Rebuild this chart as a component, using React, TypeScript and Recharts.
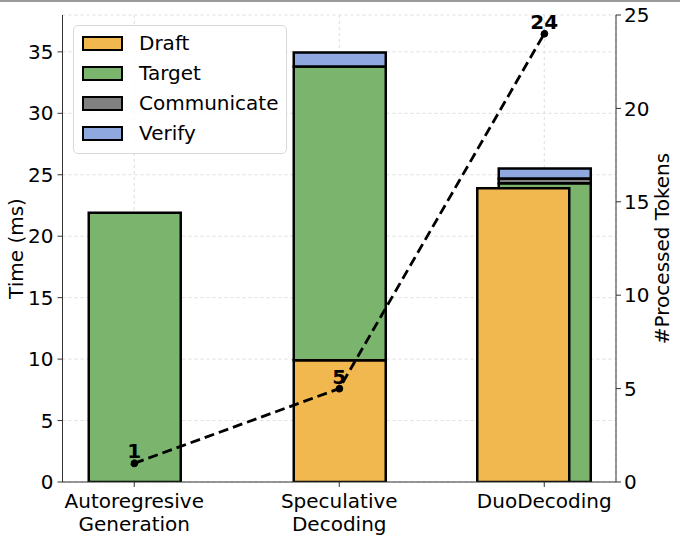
import {
  Bar,
  CartesianGrid,
  ComposedChart,
  LabelList,
  Line,
  XAxis,
  YAxis,
} from "recharts"

const categories = [
  ["Autoregresive", "Generation"],
  ["Speculative", "Decoding"],
  ["DuoDecoding"],
]
const positions = [0, 1, 2]

// stacked time components (ms)
const draftTime = [null, 9.9, null]
const targetTime = [21.9, 23.9, 24.3]
const communicateTime = [null, null, 0.4]
const verifyTime = [null, 1.15, 0.8]
// DuoDecoding runs its draft model in parallel, drawn as its own bar
const parallelDraftTime = [null, null, 23.9]

const processedTokens = [1, 5, 24]

const leftTicks = [0, 5, 10, 15, 20, 25, 30, 35]
const rightTicks = [0, 5, 10, 15, 20, 25]

const xDomain = [-0.35, 2.35]
const parallelShift = 0.1

const series = [
  { key: "draft", name: "Draft", color: "#F0B84F" },
  { key: "target", name: "Target", color: "#7BB46C" },
  { key: "communicate", name: "Communicate", color: "#808080" },
  { key: "verify", name: "Verify", color: "#8FA8DF" },
]

const data = positions.map((x, i) => ({
  x,
  draft: draftTime[i],
  target: targetTime[i],
  communicate: communicateTime[i],
  verify: verifyTime[i],
  parallelDraft: parallelDraftTime[i],
  tokens: processedTokens[i],
}))

const FONT = "DejaVu Sans, sans-serif"
const FS = 20

function CategoryTick({ x, y, payload }: any) {
  const lines = categories[payload.value] || []
  return (
    <text x={x} y={y} textAnchor="middle" fontSize={FS} fill="#000" fontFamily={FONT}>
      {lines.map((line, i) => (
        <tspan key={line} x={x} dy={i === 0 ? 19 : 23}>
          {line}
        </tspan>
      ))}
    </text>
  )
}

function LegendBox() {
  return (
    <div
      style={{
        position: "absolute",
        left: 73,
        top: 25,
        border: "1px solid #d8d8d8",
        borderRadius: 5,
        background: "rgba(255,255,255,0.85)",
        padding: "2px 8px 5px 8px",
        fontFamily: FONT,
        fontSize: FS,
        color: "#000",
      }}
    >
      {series.map((s) => (
        <div key={s.key} style={{ display: "flex", alignItems: "center", height: 30 }}>
          <span
            style={{
              display: "inline-block",
              width: 37,
              height: 11,
              background: s.color,
              border: "2.5px solid #000",
              marginRight: 16,
            }}
          />
          {s.name}
        </div>
      ))}
    </div>
  )
}

const barStroke = { stroke: "#000", strokeWidth: 2.5 }

export default function App() {
  return (
    <div style={{ position: "absolute", left: 0, top: 0, width: 680, height: 538, background: "#fff", overflow: "hidden" }}>
      <div style={{ position: "absolute", left: 0, top: 0, width: 680, height: 2, background: "#9a9a9a" }} />
      <ComposedChart
        width={680}
        height={538}
        data={data}
        margin={{ top: 15, right: 0, bottom: 0, left: 0 }}
        style={{ fontFamily: FONT }}
      >
        <CartesianGrid
          xAxisId="main"
          yAxisId="left"
          stroke="#dddddd"
          strokeDasharray="3 3"
        />
        <XAxis
          xAxisId="main"
          dataKey="x"
          type="number"
          domain={xDomain}
          ticks={positions}
          height={56}
          tick={<CategoryTick />}
          tickSize={5}
          stroke="#333"
          allowDataOverflow
        />
        <XAxis
          xAxisId="shift"
          dataKey="x"
          type="number"
          domain={[xDomain[0] + parallelShift, xDomain[1] + parallelShift]}
          ticks={positions}
          hide
          allowDataOverflow
        />
        <YAxis
          yAxisId="left"
          domain={[0, 38]}
          ticks={leftTicks}
          width={62.5}
          tickSize={5}
          tickMargin={4}
          stroke="#333"
          tick={{ fontSize: FS, fill: "#000", fontFamily: FONT }}
          allowDataOverflow
          label={{
            value: "Time (ms)",
            angle: -90,
            position: "insideLeft",
            offset: 16,
            style: { textAnchor: "middle", fontSize: FS, fill: "#000", fontFamily: FONT },
          }}
        />
        <YAxis
          yAxisId="right"
          orientation="right"
          domain={[0, 25]}
          ticks={rightTicks}
          width={64}
          tickSize={5}
          tickMargin={3}
          stroke="#333"
          tick={{ fontSize: FS, fill: "#000", fontFamily: FONT }}
          allowDataOverflow
          label={{
            value: "#Processed Tokens",
            angle: -90,
            position: "insideRight",
            offset: 18,
            style: { textAnchor: "middle", fontSize: FS, fill: "#000", fontFamily: FONT },
          }}
        />
        {series.map((s) => (
          <Bar
            key={s.key}
            xAxisId="main"
            yAxisId="left"
            dataKey={s.key}
            name={s.name}
            stackId="time"
            fill={s.color}
            barSize={92}
            {...barStroke}
            isAnimationActive={false}
          />
        ))}
        <Bar
          xAxisId="shift"
          yAxisId="left"
          dataKey="parallelDraft"
          name="Draft"
          fill={series[0].color}
          barSize={92}
          {...barStroke}
          isAnimationActive={false}
        />
        <Line
          xAxisId="main"
          yAxisId="right"
          dataKey="tokens"
          stroke="#000"
          strokeWidth={2.8}
          strokeDasharray="10 5"
          dot={{ r: 3.5, fill: "#000", stroke: "#000", strokeWidth: 1 }}
          isAnimationActive={false}
        >
          <LabelList
            dataKey="tokens"
            position="top"
            offset={5}
            style={{ fontSize: FS, fontWeight: "bold", fill: "#000", fontFamily: FONT }}
          />
        </Line>
      </ComposedChart>
      <LegendBox />
    </div>
  )
}
